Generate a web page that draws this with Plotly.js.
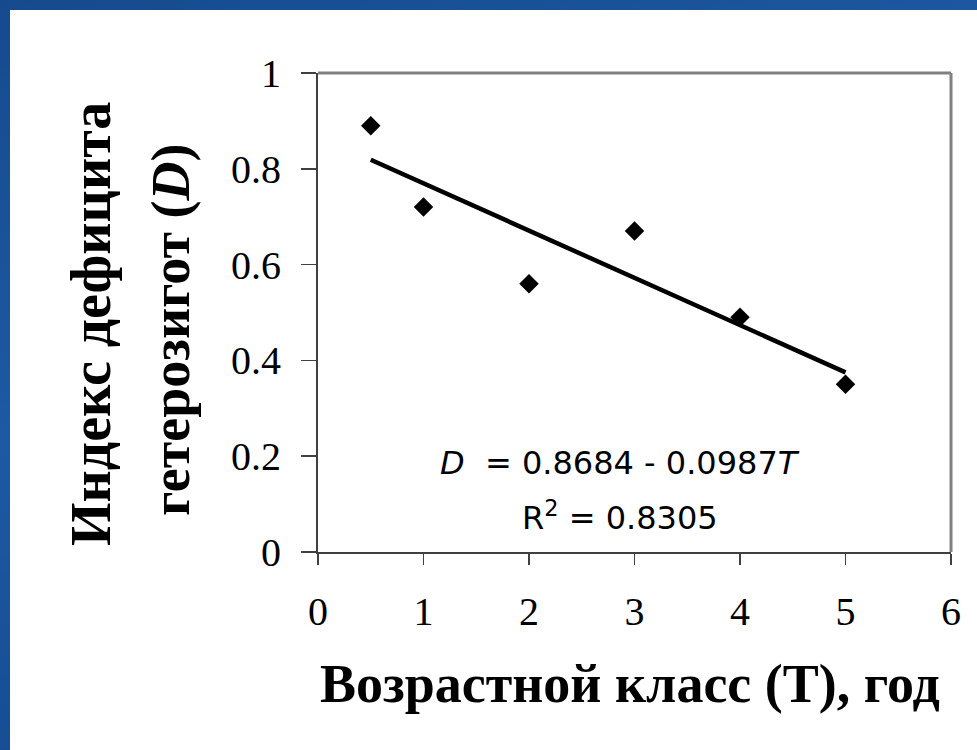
<!DOCTYPE html>
<html>
<head>
<meta charset="utf-8">
<script src="https://cdn.plot.ly/plotly-3.0.1.min.js"></script>
<style>
  html, body { margin: 0; padding: 0; }
  body {
    width: 977px; height: 750px; overflow: hidden;
    background: linear-gradient(160deg, #164a8e 0%, #1d5aa3 40%, #0f3f82 100%);
  }
  #frame {
    position: absolute; left: 10px; top: 10px;
    width: 967px; height: 740px; background: #ffffff;
  }
  #chart { width: 967px; height: 740px; }
</style>
</head>
<body>
<div id="frame"><div id="chart"></div></div>
<script>
// Age class (years) and heterozygote deficit index
const ageClass = [0.5, 1, 2, 3, 4, 5];
const deficitIndex = [0.89, 0.72, 0.56, 0.67, 0.49, 0.35];

// Linear trend D = a + b*T and its R^2
const trendCoef = [0.8684, -0.0987];
const rSquared = 0.8305;

// Axis ticks
const xTickVals = [0, 1, 2, 3, 4, 5, 6];
const xTickText = ['0', '1', '2', '3', '4', '5', '6'];
const yTickVals = [0, 0.2, 0.4, 0.6, 0.8, 1];
const yTickText = ['0', '0.2', '0.4', '0.6', '0.8', '1'];

// Text
const xTitle = 'Возрастной класс (Т), год';
const yTitleLine1 = 'Индекс дефицита';
const yTitleLine2 = 'гетерозигот (<i>D</i>)';

const W = 967, H = 740;
const M = { l: 308, r: 26, t: 63, b: 198 };
const plotW = W - M.l - M.r, plotH = H - M.t - M.b;
// pixel (within the chart div) -> paper coordinates
const px = x => (x - M.l) / plotW;
const py = y => 1 - (y - M.t) / plotH;

const trendX = [Math.min(...ageClass), Math.max(...ageClass)];
const trendY = trendX.map(t => trendCoef[0] + trendCoef[1] * t);

const fmt4 = v => Math.abs(v).toFixed(4);
const eqText = '<i>D</i>\u00a0\u00a0= ' + fmt4(trendCoef[0]) +
  (trendCoef[1] < 0 ? ' - ' : ' + ') + fmt4(trendCoef[1]) + '<i>T</i>';
const r2Text = 'R<sup>2</sup> = ' + rSquared.toFixed(4);

const serif = 'Liberation Serif, Times New Roman, serif';
const sans = 'DejaVu Sans, Arial, sans-serif';

const traces = [
  {
    x: trendX, y: trendY, type: 'scatter', mode: 'lines',
    line: { color: '#000000', width: 4.5 }, hoverinfo: 'skip', showlegend: false
  },
  {
    x: ageClass, y: deficitIndex, type: 'scatter', mode: 'markers',
    marker: { symbol: 'diamond', size: 15, color: '#000000' }, showlegend: false
  }
];

const layout = {
  width: W, height: H,
  margin: M,
  paper_bgcolor: '#ffffff', plot_bgcolor: '#ffffff',
  showlegend: false,
  xaxis: {
    range: [0, 6], tickvals: xTickVals, ticktext: xTickText,
    showgrid: false, zeroline: false, showline: true,
    linecolor: '#404040', linewidth: 2,
    ticks: 'outside', ticklen: 11, tickwidth: 1.5, tickcolor: '#404040',
    ticklabelstandoff: 12,
    tickfont: { family: serif, size: 40, color: '#000000' }
  },
  yaxis: {
    range: [0, 1], tickvals: yTickVals, ticktext: yTickText,
    showgrid: false, zeroline: false, showline: true,
    linecolor: '#404040', linewidth: 2,
    ticks: 'outside', ticklen: 15, tickwidth: 1.5, tickcolor: '#404040',
    ticklabelstandoff: 12,
    tickfont: { family: serif, size: 40, color: '#000000' }
  },
  shapes: [
    { type: 'line', xref: 'paper', yref: 'paper', x0: 0, x1: 1, y0: 1, y1: 1,
      line: { color: '#808080', width: 3 } },
    { type: 'line', xref: 'paper', yref: 'paper', x0: 1, x1: 1, y0: 0, y1: 1,
      line: { color: '#808080', width: 3 } }
  ],
  annotations: [
    { text: eqText, xref: 'paper', yref: 'paper', x: px(610), y: py(453),
      xanchor: 'center', yanchor: 'middle', showarrow: false,
      font: { family: sans, size: 32, color: '#000000' } },
    { text: r2Text, xref: 'paper', yref: 'paper', x: px(610), y: py(506),
      xanchor: 'center', yanchor: 'middle', showarrow: false,
      font: { family: sans, size: 32, color: '#000000' } },
    { text: '<b>' + xTitle + '</b>', xref: 'paper', yref: 'paper', x: px(620), y: py(674),
      xanchor: 'center', yanchor: 'middle', showarrow: false,
      font: { family: serif, size: 54, color: '#000000' } },
    { text: '<b>' + yTitleLine1 + '</b>', xref: 'paper', yref: 'paper', x: px(81), y: py(314),
      xanchor: 'center', yanchor: 'middle', textangle: -90, showarrow: false,
      font: { family: serif, size: 56, color: '#000000' } },
    { text: '<b>' + yTitleLine2 + '</b>', xref: 'paper', yref: 'paper', x: px(161), y: py(320),
      xanchor: 'center', yanchor: 'middle', textangle: -90, showarrow: false,
      font: { family: serif, size: 54, color: '#000000' } }
  ]
};

Plotly.newPlot('chart', traces, layout, { displayModeBar: false, staticPlot: true });
</script>
</body>
</html>
